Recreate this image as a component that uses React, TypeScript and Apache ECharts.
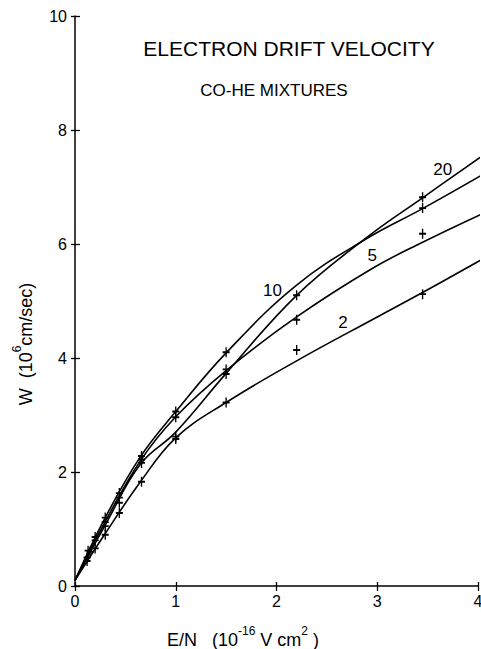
import React, { useEffect, useRef } from "react";
import * as echarts from "echarts";

// Axis ranges / ticks
const xMin = 0;
const xMax = 4;
const xStep = 1;
const yMin = 0;
const yMax = 10;
const yStep = 2;

// Curve names (CO percentage in He)
const curveNames = ["2", "5", "10", "20"];

// Fitted curves [E/N, W]
const fit2 = [[0, 0.1], [0.3, 0.92], [0.65, 1.83], [1.0, 2.6], [1.5, 3.22], [2.2, 3.95], [3.0, 4.72], [3.45, 5.15], [4.03, 5.72]];
const fit5 = [[0, 0.1], [0.3, 1.13], [0.65, 2.2], [1.0, 2.97], [1.5, 3.78], [2.2, 4.72], [2.95, 5.57], [3.45, 6.03], [4.03, 6.52]];
const fit10 = [[0, 0.1], [0.3, 1.2], [0.65, 2.27], [1.0, 3.06], [1.5, 4.09], [2.2, 5.28], [2.9, 6.1], [3.45, 6.62], [4.03, 7.2]];
const fit20 = [[0, 0.1], [0.3, 1.07], [0.65, 2.14], [1.0, 2.7], [1.5, 3.73], [2.2, 5.1], [2.9, 6.12], [3.45, 6.81], [4.03, 7.53]];

// Measured points (crosses) [E/N, W]
const meas2 = [[0.12, 0.44], [0.2, 0.66], [0.3, 0.9], [0.44, 1.28], [0.66, 1.83], [1.0, 2.58], [1.5, 3.22], [2.2, 4.14], [3.45, 5.12]];
const meas5 = [[0.12, 0.5], [0.2, 0.8], [0.3, 1.12], [0.44, 1.55], [0.66, 2.22], [1.0, 2.96], [1.5, 3.8], [2.2, 4.67], [3.45, 6.18]];
const meas10 = [[0.13, 0.62], [0.2, 0.86], [0.3, 1.2], [0.44, 1.63], [0.66, 2.28], [1.0, 3.06], [1.5, 4.1], [3.45, 6.63]];
const meas20 = [[0.15, 0.6], [0.3, 1.05], [0.44, 1.46], [0.66, 2.16], [1.0, 2.62], [1.5, 3.72], [2.2, 5.1], [3.45, 6.82]];

// Curve label positions [E/N, W]
const labelPos = [[2.66, 4.63], [2.95, 5.79], [1.96, 5.19], [3.65, 7.31]];

const titleText = "ELECTRON DRIFT VELOCITY";
const subtitleText = "CO-HE MIXTURES";

const FONT = '"Liberation Sans", Arial, sans-serif';
const INK = "#000";

export default function App() {
  const ref = useRef<HTMLDivElement>(null);

  useEffect(() => {
    if (!ref.current) return;
    const chart = echarts.init(ref.current, undefined, { renderer: "svg" });

    const fits = [fit2, fit5, fit10, fit20];
    const meas = [meas2, meas5, meas10, meas20];

    const lineSeries = fits.map((d, i) => ({
      name: "fit " + curveNames[i],
      type: "line",
      data: d,
      smooth: 0.4,
      showSymbol: false,
      symbol: "none",
      clip: false,
      lineStyle: { color: INK, width: 1.6, opacity: 1 },
      z: 2,
    }));

    const crossSeries = meas.map((d, i) => ({
      name: "data " + curveNames[i],
      type: "scatter",
      data: d,
      symbol: "path://M5,0 L5,10 M0,5 L10,5",
      symbolSize: [7, 10],
      itemStyle: { color: "transparent", borderColor: INK, borderWidth: 1.6, opacity: 1 },
      z: 3,
    }));

    const labelSeries = {
      name: "labels",
      type: "scatter",
      data: labelPos.map((p, i) => ({ value: p, name: curveNames[i] })),
      symbolSize: 1,
      itemStyle: { color: "transparent", opacity: 1 },
      label: {
        show: true,
        position: "inside",
        formatter: "{b}",
        fontSize: 17,
        fontFamily: FONT,
        color: INK,
        opacity: 1,
        textBorderWidth: 0,
        textBorderColor: "transparent",
      },
      z: 4,
    };

    const axisCommonLabel = {
      fontSize: 16,
      fontFamily: FONT,
      color: INK,
    };

    chart.setOption({
      animation: false,
      backgroundColor: "#fff",
      grid: {
        left: 75,
        right: 3,
        top: 16,
        bottom: 63,
        containLabel: false,
        outerBoundsMode: "none",
      },
      xAxis: [
        {
          type: "value",
          min: xMin,
          max: xMax,
          interval: xStep,
          axisLine: { show: true, lineStyle: { color: INK, width: 1.5 } },
          axisTick: { show: true, length: 5, lineStyle: { color: INK, width: 1.3 } },
          axisLabel: { ...axisCommonLabel, margin: 7 },
          splitLine: { show: false },
        },
        {
          type: "value",
          position: "bottom",
          min: xMin,
          max: xMax,
          interval: xStep,
          axisLine: { show: false },
          axisTick: { show: true, inside: true, length: 4, lineStyle: { color: INK, width: 1.3 } },
          axisLabel: { show: false },
          splitLine: { show: false },
        },
      ],
      yAxis: [
        {
          type: "value",
          min: yMin,
          max: yMax,
          interval: yStep,
          axisLine: { show: true, lineStyle: { color: INK, width: 1.5 } },
          axisTick: { show: true, length: 4, lineStyle: { color: INK, width: 1.3 } },
          axisLabel: { ...axisCommonLabel, margin: 8 },
          splitLine: { show: false },
        },
        {
          type: "value",
          position: "left",
          min: yMin,
          max: yMax,
          interval: yStep,
          axisLine: { show: false },
          axisTick: { show: true, inside: true, length: 5, lineStyle: { color: INK, width: 1.3 } },
          axisLabel: { show: false },
          splitLine: { show: false },
        },
      ],
      graphic: [
        {
          type: "text",
          x: 289,
          y: 48,
          style: {
            text: titleText,
            font: `21px ${FONT}`,
            fill: INK,
            align: "center",
            verticalAlign: "middle",
            textAlign: "center",
            textVerticalAlign: "middle",
          },
        },
        {
          type: "text",
          x: 274,
          y: 90,
          style: {
            text: subtitleText,
            font: `17px ${FONT}`,
            fill: INK,
            align: "center",
            verticalAlign: "middle",
            textAlign: "center",
            textVerticalAlign: "middle",
          },
        },
        {
          type: "text",
          x: 243,
          y: 637,
          style: {
            text: "{n|E/N   (10}{s|-16}{n| V cm}{s|2}{n| )}",
            fill: INK,
            align: "center",
            verticalAlign: "middle",
            textAlign: "center",
            textVerticalAlign: "middle",
            rich: {
              n: { fontSize: 18, fontFamily: FONT, lineHeight: 24, verticalAlign: "bottom", fill: INK },
              s: { fontSize: 12, fontFamily: FONT, lineHeight: 15, verticalAlign: "top", fill: INK },
            },
          },
        },
        {
          type: "text",
          x: 23,
          y: 344,
          rotation: Math.PI / 2,
          style: {
            text: "{n|W  (10}{s|6}{n|cm/sec)}",
            fill: INK,
            align: "center",
            verticalAlign: "middle",
            textAlign: "center",
            textVerticalAlign: "middle",
            rich: {
              n: { fontSize: 18, fontFamily: FONT, lineHeight: 24, verticalAlign: "bottom", fill: INK },
              s: { fontSize: 12, fontFamily: FONT, lineHeight: 15, verticalAlign: "top", fill: INK },
            },
          },
        },
      ],
      series: [...lineSeries, ...crossSeries, labelSeries],
    });

    return () => {
      chart.dispose();
    };
  }, []);

  return (
    <div
      ref={ref}
      style={{ position: "absolute", left: 0, top: 0, width: 481, height: 649, background: "#fff" }}
    />
  );
}
